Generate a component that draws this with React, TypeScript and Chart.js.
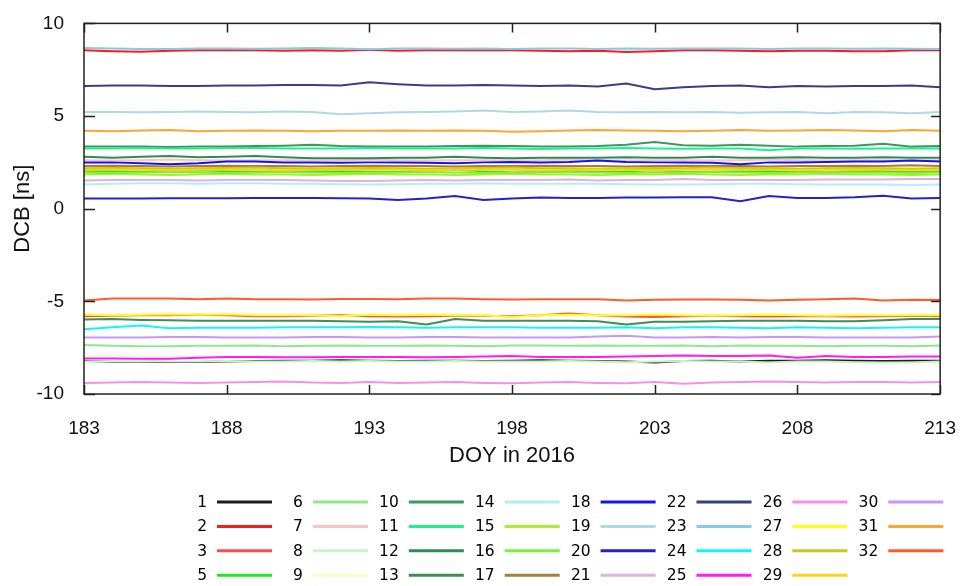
import React, { useEffect, useRef } from "react";
import { Chart, registerables } from "chart.js";
Chart.register(...registerables);

const days = [183, 184, 185, 186, 187, 188, 189, 190, 191, 192, 193, 194, 195, 196, 197, 198, 199, 200, 201, 202, 203, 204, 205, 206, 207, 208, 209, 210, 211, 212, 213];
const xTickValues = [183, 188, 193, 198, 203, 208, 213];
const yTickValues = [-10, -5, 0, 5, 10];
const xTitle = "DOY in 2016";
const yTitle = "DCB [ns]";

const seriesLabels = ["1", "2", "3", "5", "6", "7", "8", "9", "10", "11", "12", "13", "14", "15", "16", "17", "18", "19", "20", "21", "22", "23", "24", "25", "26", "27", "28", "29", "30", "31", "32"];
const seriesColors = [
  "#1e1e1e", "#ff1a1a", "#ff4c4c", "#22e622", "#8fe88f", "#ffc2c2", "#c4f5c4", "#fffacd",
  "#3a9a5e", "#1ff08c", "#2e8b57", "#3c8f4f", "#b4eef0", "#a8f02c", "#7cf03c", "#a4803c",
  "#1414f0", "#add8e6", "#2222c8", "#e0b0e0", "#3c3c82", "#87c8ec", "#14f4f4", "#ff1aff",
  "#f590e6", "#ffff14", "#c8c81e", "#ffd214", "#c896f5", "#ffa532", "#ff5a28",
];

const s1 = [-8.22, -8.24, -8.25, -8.27, -8.27, -8.25, -8.22, -8.20, -8.20, -8.18, -8.20, -8.22, -8.20, -8.20, -8.22, -8.20, -8.18, -8.20, -8.22, -8.25, -8.30, -8.22, -8.20, -8.25, -8.20, -8.20, -8.18, -8.20, -8.22, -8.20, -8.20];
const s2 = [8.55, 8.50, 8.47, 8.52, 8.55, 8.55, 8.55, 8.52, 8.55, 8.53, 8.58, 8.52, 8.55, 8.55, 8.55, 8.55, 8.52, 8.50, 8.52, 8.45, 8.50, 8.55, 8.55, 8.52, 8.50, 8.53, 8.52, 8.50, 8.50, 8.55, 8.55];
const s3 = [-5.80, -5.78, -5.75, -5.75, -5.72, -5.75, -5.80, -5.80, -5.78, -5.75, -5.80, -5.82, -5.80, -5.78, -5.78, -5.80, -5.75, -5.65, -5.75, -5.82, -5.85, -5.80, -5.78, -5.80, -5.82, -5.80, -5.80, -5.82, -5.80, -5.78, -5.80];
const s5 = [2.05, 2.02, 2.00, 2.05, 2.08, 2.02, 2.00, 1.98, 2.02, 2.05, 2.00, 1.98, 2.05, 2.10, 2.02, 1.95, 1.98, 2.05, 2.00, 2.02, 2.08, 2.00, 1.98, 2.02, 2.05, 2.00, 1.98, 2.02, 2.05, 2.00, 2.02];
const s6 = [-7.35, -7.40, -7.42, -7.42, -7.40, -7.40, -7.38, -7.42, -7.40, -7.38, -7.40, -7.40, -7.38, -7.40, -7.42, -7.38, -7.38, -7.40, -7.38, -7.40, -7.40, -7.38, -7.42, -7.38, -7.40, -7.40, -7.42, -7.40, -7.40, -7.42, -7.38];
const s7 = [2.62, 2.60, 2.62, 2.65, 2.62, 2.60, 2.62, 2.62, 2.60, 2.62, 2.65, 2.62, 2.60, 2.62, 2.62, 2.60, 2.62, 2.65, 2.62, 2.60, 2.62, 2.62, 2.60, 2.62, 2.65, 2.62, 2.60, 2.62, 2.62, 2.60, 2.62];
const s8 = [-8.25, -8.22, -8.22, -8.25, -8.25, -8.22, -8.25, -8.25, -8.22, -8.25, -8.22, -8.25, -8.25, -8.22, -8.25, -8.25, -8.25, -8.22, -8.25, -8.28, -8.25, -8.22, -8.25, -8.25, -8.30, -8.25, -8.25, -8.28, -8.30, -8.30, -8.25];
const s9 = [2.25, 2.22, 2.25, 2.28, 2.25, 2.22, 2.25, 2.25, 2.28, 2.25, 2.22, 2.25, 2.25, 2.22, 2.25, 2.28, 2.25, 2.25, 2.22, 2.25, 2.25, 2.28, 2.25, 2.22, 2.25, 2.25, 2.28, 2.25, 2.22, 2.25, 2.25];
const s10 = [3.35, 3.35, 3.35, 3.33, 3.35, 3.35, 3.38, 3.40, 3.45, 3.38, 3.35, 3.35, 3.35, 3.38, 3.40, 3.38, 3.35, 3.35, 3.38, 3.45, 3.60, 3.42, 3.40, 3.45, 3.40, 3.35, 3.38, 3.40, 3.50, 3.35, 3.38];
const s11 = [3.25, 3.25, 3.27, 3.25, 3.25, 3.27, 3.27, 3.25, 3.25, 3.25, 3.27, 3.25, 3.25, 3.25, 3.27, 3.25, 3.22, 3.25, 3.25, 3.27, 3.25, 3.23, 3.25, 3.25, 3.15, 3.25, 3.25, 3.23, 3.25, 3.25, 3.25];
const s12 = [2.80, 2.75, 2.80, 2.85, 2.78, 2.80, 2.85, 2.78, 2.72, 2.72, 2.72, 2.75, 2.75, 2.80, 2.75, 2.72, 2.75, 2.75, 2.75, 2.78, 2.75, 2.75, 2.80, 2.75, 2.75, 2.78, 2.75, 2.75, 2.78, 2.75, 2.75];
const s13 = [-5.98, -5.95, -6.00, -6.02, -6.05, -6.05, -6.05, -6.05, -6.05, -6.08, -6.10, -6.08, -6.25, -5.95, -6.05, -6.05, -6.05, -6.05, -6.08, -6.25, -6.10, -6.10, -6.08, -6.05, -6.05, -6.05, -6.08, -6.08, -6.02, -5.95, -5.95];
const s14 = [1.30, 1.35, 1.38, 1.38, 1.35, 1.38, 1.38, 1.35, 1.35, 1.32, 1.30, 1.32, 1.35, 1.35, 1.38, 1.35, 1.35, 1.35, 1.35, 1.32, 1.30, 1.30, 1.32, 1.35, 1.35, 1.32, 1.30, 1.30, 1.30, 1.28, 1.30];
const s15 = [1.85, 1.88, 1.85, 1.82, 1.85, 1.88, 1.85, 1.85, 1.82, 1.85, 1.88, 1.85, 1.85, 1.82, 1.85, 1.88, 1.85, 1.85, 1.82, 1.85, 1.85, 1.88, 1.85, 1.82, 1.85, 1.85, 1.88, 1.85, 1.85, 1.82, 1.85];
const s16 = [1.95, 1.92, 1.95, 1.98, 1.95, 1.92, 1.95, 1.98, 1.95, 1.92, 1.95, 1.95, 1.98, 1.95, 1.92, 1.95, 1.95, 1.98, 1.95, 1.92, 1.95, 1.95, 1.98, 1.95, 1.92, 1.95, 1.98, 1.95, 1.95, 1.92, 1.95];
const s17 = [2.30, 2.32, 2.30, 2.28, 2.30, 2.32, 2.30, 2.30, 2.28, 2.30, 2.32, 2.30, 2.30, 2.28, 2.30, 2.30, 2.32, 2.30, 2.30, 2.28, 2.30, 2.32, 2.30, 2.30, 2.28, 2.30, 2.30, 2.32, 2.30, 2.35, 2.30];
const s18 = [2.50, 2.50, 2.45, 2.40, 2.45, 2.55, 2.55, 2.50, 2.50, 2.48, 2.50, 2.50, 2.48, 2.45, 2.50, 2.52, 2.50, 2.52, 2.60, 2.52, 2.50, 2.50, 2.48, 2.40, 2.50, 2.50, 2.52, 2.55, 2.55, 2.60, 2.55];
const s19 = [5.22, 5.22, 5.20, 5.22, 5.25, 5.22, 5.20, 5.25, 5.22, 5.10, 5.15, 5.20, 5.22, 5.25, 5.30, 5.22, 5.25, 5.30, 5.22, 5.20, 5.22, 5.20, 5.22, 5.18, 5.20, 5.22, 5.15, 5.22, 5.20, 5.15, 5.22];
const s20 = [0.55, 0.55, 0.55, 0.57, 0.57, 0.57, 0.58, 0.58, 0.58, 0.57, 0.55, 0.47, 0.55, 0.68, 0.47, 0.55, 0.60, 0.58, 0.58, 0.60, 0.60, 0.62, 0.62, 0.40, 0.68, 0.58, 0.58, 0.62, 0.70, 0.55, 0.58];
const s21 = [1.52, 1.55, 1.55, 1.55, 1.52, 1.55, 1.55, 1.55, 1.52, 1.50, 1.50, 1.52, 1.55, 1.52, 1.55, 1.55, 1.55, 1.58, 1.52, 1.55, 1.55, 1.60, 1.55, 1.55, 1.55, 1.55, 1.58, 1.58, 1.58, 1.60, 1.60];
const s22 = [6.62, 6.65, 6.65, 6.62, 6.62, 6.65, 6.65, 6.68, 6.68, 6.65, 6.82, 6.72, 6.65, 6.65, 6.68, 6.65, 6.62, 6.65, 6.60, 6.75, 6.45, 6.55, 6.62, 6.65, 6.55, 6.62, 6.60, 6.62, 6.62, 6.65, 6.55];
const s23 = [8.67, 8.65, 8.62, 8.62, 8.65, 8.65, 8.63, 8.65, 8.67, 8.65, 8.60, 8.65, 8.65, 8.63, 8.65, 8.62, 8.65, 8.65, 8.62, 8.65, 8.63, 8.65, 8.65, 8.65, 8.62, 8.65, 8.65, 8.63, 8.65, 8.63, 8.62];
const s24 = [-6.50, -6.40, -6.30, -6.45, -6.42, -6.42, -6.42, -6.40, -6.40, -6.40, -6.38, -6.40, -6.42, -6.40, -6.40, -6.40, -6.42, -6.42, -6.42, -6.40, -6.45, -6.40, -6.40, -6.42, -6.45, -6.40, -6.42, -6.45, -6.42, -6.40, -6.40];
const s25 = [-8.08, -8.08, -8.10, -8.10, -8.05, -8.00, -8.00, -8.02, -8.02, -8.00, -8.00, -8.00, -8.02, -8.00, -7.98, -7.95, -8.00, -8.00, -8.00, -7.98, -7.95, -7.92, -7.95, -7.95, -7.92, -8.05, -7.95, -8.00, -8.00, -7.98, -7.98];
const s26 = [-9.40, -9.38, -9.35, -9.38, -9.40, -9.38, -9.35, -9.32, -9.38, -9.40, -9.35, -9.40, -9.38, -9.35, -9.40, -9.42, -9.38, -9.35, -9.40, -9.42, -9.35, -9.45, -9.38, -9.35, -9.32, -9.35, -9.38, -9.35, -9.35, -9.38, -9.35];
const s27 = [-5.72, -5.75, -5.72, -5.70, -5.72, -5.70, -5.75, -5.75, -5.75, -5.80, -5.72, -5.75, -5.72, -5.75, -5.75, -5.85, -5.75, -5.72, -5.75, -5.75, -5.72, -5.75, -5.78, -5.75, -5.72, -5.75, -5.78, -5.75, -5.75, -5.75, -5.75];
const s28 = [2.18, 2.20, 2.18, 2.15, 2.18, 2.20, 2.22, 2.18, 2.15, 2.18, 2.20, 2.18, 2.15, 2.18, 2.20, 2.22, 2.18, 2.18, 2.15, 2.18, 2.20, 2.18, 2.22, 2.20, 2.18, 2.15, 2.18, 2.20, 2.18, 2.15, 2.18];
const s29 = [2.10, 2.12, 2.10, 2.08, 2.10, 2.12, 2.10, 2.08, 2.10, 2.12, 2.10, 2.10, 2.08, 2.10, 2.12, 2.10, 2.08, 2.10, 2.12, 2.10, 2.08, 2.10, 2.12, 2.10, 2.10, 2.08, 2.10, 2.12, 2.10, 2.08, 2.10];
const s30 = [-6.95, -6.95, -6.95, -6.92, -6.92, -6.95, -6.95, -6.95, -6.93, -6.92, -6.95, -6.95, -6.92, -6.93, -6.95, -6.95, -6.95, -6.95, -6.90, -6.85, -6.95, -6.95, -6.92, -6.95, -6.92, -6.92, -6.95, -6.95, -6.95, -6.95, -6.90];
const s31 = [4.20, 4.18, 4.22, 4.25, 4.18, 4.20, 4.22, 4.20, 4.18, 4.20, 4.20, 4.22, 4.20, 4.22, 4.20, 4.15, 4.18, 4.22, 4.25, 4.22, 4.20, 4.18, 4.20, 4.25, 4.20, 4.22, 4.25, 4.22, 4.18, 4.25, 4.20];
const s32 = [-4.95, -4.85, -4.85, -4.85, -4.88, -4.85, -4.88, -4.88, -4.90, -4.87, -4.87, -4.88, -4.85, -4.85, -4.88, -4.90, -4.88, -4.88, -4.88, -4.95, -4.92, -4.90, -4.90, -4.92, -4.95, -4.92, -4.88, -4.85, -4.95, -4.92, -4.93];

const seriesValues = [s1, s2, s3, s5, s6, s7, s8, s9, s10, s11, s12, s13, s14, s15, s16, s17, s18, s19, s20, s21, s22, s23, s24, s25, s26, s27, s28, s29, s30, s31, s32];

const AXIS_FONT = "'Liberation Sans', Arial, sans-serif";
const LEGEND_FONT = "'DejaVu Sans', Verdana, sans-serif";

const framePlugin = {
  id: "frameTicksLegend",
  afterDraw(chart: any) {
    const { ctx, chartArea: a, scales } = chart;
    ctx.save();
    ctx.strokeStyle = "#222";
    ctx.lineWidth = 1.5;
    ctx.strokeRect(a.left, a.top, a.right - a.left, a.bottom - a.top);
    ctx.beginPath();
    for (const v of xTickValues) {
      const x = Math.round(scales.x.getPixelForValue(v)) + 0.5;
      ctx.moveTo(x, a.bottom);
      ctx.lineTo(x, a.bottom - 9);
      ctx.moveTo(x, a.top);
      ctx.lineTo(x, a.top + 9);
    }
    for (const v of yTickValues) {
      const y = Math.round(scales.y.getPixelForValue(v)) + 0.5;
      ctx.moveTo(a.left, y);
      ctx.lineTo(a.left + 11, y);
      ctx.moveTo(a.right, y);
      ctx.lineTo(a.right - 9, y);
    }
    ctx.stroke();

    // axis titles
    ctx.fillStyle = "#111";
    ctx.font = `22px ${AXIS_FONT}`;
    ctx.textAlign = "center";
    ctx.textBaseline = "middle";
    ctx.fillText(xTitle, (a.left + a.right) / 2, 456);
    ctx.save();
    ctx.translate(23, (a.top + a.bottom) / 2);
    ctx.rotate(-Math.PI / 2);
    ctx.fillText(yTitle, 0, 0);
    ctx.restore();

    // legend
    const ds = chart.data.datasets;
    ctx.font = `15.5px ${LEGEND_FONT}`;
    ctx.textAlign = "right";
    ctx.textBaseline = "middle";
    for (let i = 0; i < ds.length; i++) {
      const col = Math.floor(i / 4);
      const row = i % 4;
      const lx = 217 + col * 95.9;
      const ly = 502 + row * 24.4;
      ctx.fillStyle = "#000";
      ctx.fillText(ds[i].label, lx - 10, ly + 1);
      ctx.strokeStyle = ds[i].borderColor;
      ctx.lineWidth = 3;
      ctx.beginPath();
      ctx.moveTo(lx, ly);
      ctx.lineTo(lx + 55, ly);
      ctx.stroke();
    }
    ctx.restore();
  },
};

export default function App() {
  const ref = useRef<HTMLCanvasElement>(null);
  useEffect(() => {
    if (!ref.current) return;
    Chart.defaults.font.family = AXIS_FONT;
    const chart = new Chart(ref.current, {
      type: "line",
      data: {
        datasets: seriesValues.map((vals, i) => ({
          label: seriesLabels[i],
          data: vals.map((v, j) => ({ x: days[j], y: v })),
          borderColor: seriesColors[i],
          backgroundColor: seriesColors[i],
          borderWidth: 2,
          pointRadius: 0,
          tension: 0,
          fill: false,
          order: -i,
        })),
      },
      options: {
        animation: false,
        responsive: false,
        devicePixelRatio: 1,
        layout: { padding: { top: 22, right: 19, left: 0, bottom: 0 } },
        plugins: { legend: { display: false }, tooltip: { enabled: false } },
        scales: {
          x: {
            type: "linear",
            min: 183,
            max: 213,
            grid: { display: false },
            border: { display: false },
            afterBuildTicks: (s: any) => {
              s.ticks = xTickValues.map((v) => ({ value: v }));
            },
            afterFit: (s: any) => {
              s.height = 192;
            },
            ticks: {
              autoSkip: false,
              maxRotation: 0,
              padding: 15,
              color: "#111",
              font: { size: 19, family: AXIS_FONT },
            },
          },
          y: {
            type: "linear",
            min: -10,
            max: 10,
            grid: { display: false },
            border: { display: false },
            afterBuildTicks: (s: any) => {
              s.ticks = yTickValues.map((v) => ({ value: v }));
            },
            afterFit: (s: any) => {
              s.width = 84;
            },
            ticks: {
              padding: 12,
              color: "#111",
              font: { size: 19, family: AXIS_FONT },
            },
          },
        },
      },
      plugins: [framePlugin],
    });
    return () => chart.destroy();
  }, []);
  return (
    <div style={{ position: "fixed", left: 0, top: 0, width: 971, height: 586, background: "#fff" }}>
      <canvas ref={ref} width={971} height={586} />
    </div>
  );
}
